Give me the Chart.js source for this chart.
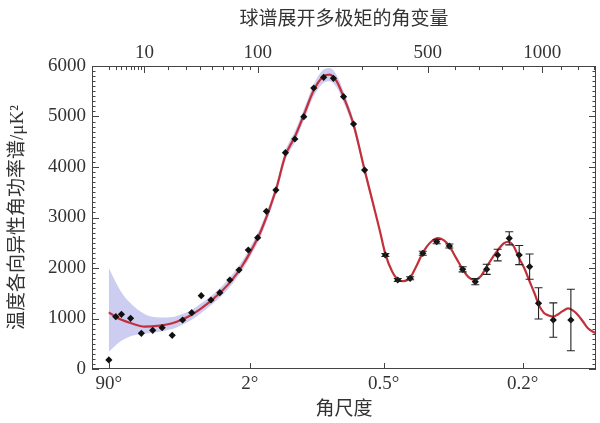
<!DOCTYPE html>
<html><head><meta charset="utf-8">
<script src="https://cdn.jsdelivr.net/npm/chart.js@4.4.0/dist/chart.umd.min.js"></script>
<style>html,body{margin:0;padding:0;background:#fff;} canvas{display:block;}</style>
</head><body>
<canvas id="c" width="600" height="423"></canvas>
<script>
const dataL = [2,3,4,6,9,13,17,22,28,34,41,49,57,67,77,88,100,112,126,
  141,157,173,192,212,233,256,280,308,
  365,402,441,483,532,579,631,683,732,781,835,883,935,981,1060,1159];
const dataV = [180,1036,1083,1003,707,766,818,667,970,1115,1451,1366,1511,1762,1960,2356,2600,3122,3544,
  4283,4554,4996,5564,5775,5755,5392,4851,3940,
  2257,1762,1796,2291,2521,2435,1974,1729,1974,2257,2588,2257,2026,1300,970,970];
const dataErr = [0,0,0,0,0,0,0,0,0,0,0,0,0,0,0,0,0,0,0,
  0,0,0,0,0,0,0,0,0,
  30,30,30,40,40,40,50,60,100,115,130,190,250,310,340,610];

// best-fit model curve
const curveL = [2,3,4,6,10,16,22,27,34,41,50,60,70,80,90,105,126,141,157,173,192,212,225,240,256,280,308,335,350,365,
  385,405,420,441,460,483,510,539,560,579,605,631,655,679,705,732,760,781,810,830,855,883,910,932,960,985,
  1010,1035,1060,1085,1110,1143,1170,1200,1230,1260,1311];
const curveV = [1122,1030,975,910,838,860,905,970,1075,1202,1370,1564,1780,2025,2300,2752,3544,4230,4600,5030,5520,5800,5830,5700,5390,4840,3940,3150,2720,2280,
  1930,1760,1740,1810,2020,2300,2510,2590,2540,2435,2200,1974,1820,1762,1830,2026,2220,2350,2490,2520,2440,2192,1980,1762,1500,1250,
  1110,1060,1036,1080,1140,1200,1160,1069,940,806,700];

// cosmic-variance band
const bandL  = [2,3,4,6,10,16,22,27,34,41,50,60,70,80,90,105,126,141,157,173,192,212,225,240,256,280,308,335];
const bandHi = [2000,1720,1520,1300,1090,1020,1030,1080,1170,1300,1460,1660,1880,2120,2400,2850,3640,4330,4710,5140,5640,5930,5960,5820,5500,4930,4020,3220];
const bandLo = [340,470,560,650,700,740,790,860,975,1110,1280,1470,1690,1940,2210,2660,3450,4130,4490,4920,5400,5670,5700,5580,5280,4750,3860,3080];

// axis ticks
const topTickL = [10,100,500,1000];
const topTickLabels = ['10','100','500','1000'];
const topMinorL = [2,3,4,5,6,7,8,9,20,30,40,50,60,70,80,90,200,300,400,600,700,800,900,1100,1200,1300];
const bottomTickL = [2,90,360,900];
const bottomTickLabels = ['90°','2°','0.5°','0.2°'];

// the l axis is stretched like l^0.4
const P = 0.4;
const u = l => Math.pow(l, P);
const U_MIN = 0.754, U_MAX = 17.655;

const txt = '#333';
const numFont = { family: '"Liberation Serif", "Noto Sans CJK SC", serif', size: 19 };
const cjkFont = { family: '"Liberation Serif", "Noto Sans CJK SC", serif', size: 19 };

const pts = (ls, vs) => ls.map((l, i) => ({ x: u(l), y: vs[i] }));

const decor = {
  id: 'decor',
  afterDatasetsDraw(chart) {
    const { ctx, scales: { x, y } } = chart;
    ctx.save();
    ctx.strokeStyle = '#222';
    ctx.lineWidth = 1.1;
    dataL.forEach((l, i) => {
      const e = dataErr[i];
      if (!e) return;
      const px = x.getPixelForValue(u(l));
      const y1 = y.getPixelForValue(dataV[i] + e), y2 = y.getPixelForValue(dataV[i] - e);
      ctx.beginPath();
      ctx.moveTo(px, y1); ctx.lineTo(px, y2);
      ctx.moveTo(px - 4, y1); ctx.lineTo(px + 4, y1);
      ctx.moveTo(px - 4, y2); ctx.lineTo(px + 4, y2);
      ctx.stroke();
    });
    ctx.restore();
  },
  afterDraw(chart) {
    const { ctx, chartArea: a, scales: { x, y } } = chart;
    ctx.save();
    ctx.strokeStyle = '#444';
    ctx.lineWidth = 1;
    ctx.strokeRect(a.left + 0.5, a.top + 0.5, a.right - a.left - 1, a.bottom - a.top - 1);
    ctx.beginPath();
    for (let v = 0; v <= 6000; v += 100) {
      const py = Math.round(y.getPixelForValue(v)) + 0.5;
      const len = v % 1000 === 0 ? 7 : 3.5;
      ctx.moveTo(a.left, py); ctx.lineTo(a.left + len, py);
      ctx.moveTo(a.right, py); ctx.lineTo(a.right - len, py);
    }
    const vtick = (l, len, fromTop) => {
      const px = Math.round(x.getPixelForValue(u(l))) + 0.5;
      if (px > a.right) return;
      if (fromTop) { ctx.moveTo(px, a.top); ctx.lineTo(px, a.top + len); }
      else { ctx.moveTo(px, a.bottom); ctx.lineTo(px, a.bottom - len); }
    };
    topMinorL.forEach(l => vtick(l, 4, true));
    topTickL.forEach(l => vtick(l, 7, true));
    bottomTickL.forEach(l => vtick(l, 6, false));
    ctx.stroke();
    ctx.restore();
  }
};

new Chart(document.getElementById('c'), {
  type: 'line',
  data: {
    datasets: [
      { data: pts(dataL, dataV), showLine: false, pointStyle: 'rectRot', pointRadius: 3.6,
        pointBackgroundColor: '#111', pointBorderColor: '#111', borderWidth: 0 },
      { data: pts(curveL, curveV), borderColor: '#c2303a', borderWidth: 2.2, pointRadius: 0,
        cubicInterpolationMode: 'monotone', fill: false },
      { data: pts(bandL, bandHi), borderWidth: 0, pointRadius: 0, borderColor: 'rgba(0,0,0,0)',
        backgroundColor: 'rgba(196,196,238,0.85)', cubicInterpolationMode: 'monotone', fill: '+1' },
      { data: pts(bandL, bandLo), borderWidth: 0, pointRadius: 0, borderColor: 'rgba(0,0,0,0)',
        cubicInterpolationMode: 'monotone', fill: false }
    ]
  },
  options: {
    responsive: false,
    animation: false,
    devicePixelRatio: 1,
    layout: { padding: { left: 0, right: 3, top: 0, bottom: 0 } },
    plugins: { legend: { display: false }, tooltip: { enabled: false } },
    scales: {
      x: {
        type: 'linear', position: 'bottom', min: U_MIN, max: U_MAX,
        grid: { display: false, drawTicks: false }, border: { display: false },
        afterBuildTicks: s => { s.ticks = bottomTickL.map(l => ({ value: u(l) })); },
        ticks: { callback: (v, i) => bottomTickLabels[i], padding: 4, font: numFont, color: txt,
          maxRotation: 0, autoSkip: false },
        title: { display: true, text: '角尺度', font: cjkFont, color: txt, padding: { top: 0, bottom: 2 } },
        afterFit: s => { s.height = 54; }
      },
      x2: {
        type: 'linear', position: 'top', min: U_MIN, max: U_MAX,
        grid: { display: false, drawTicks: false }, border: { display: false },
        afterBuildTicks: s => { s.ticks = topTickL.map(l => ({ value: u(l) })); },
        ticks: { callback: (v, i) => topTickLabels[i], padding: 2, font: numFont, color: txt,
          maxRotation: 0, autoSkip: false },
        title: { display: true, text: '球谱展开多极矩的角变量', font: cjkFont, color: txt, padding: { top: 9, bottom: 0 } },
        afterFit: s => { s.height = 66; }
      },
      y: {
        min: 0, max: 6000,
        grid: { display: false, drawTicks: false }, border: { display: false },
        ticks: { stepSize: 1000, padding: 6, font: numFont, color: txt, callback: v => String(v) },
        title: { display: true, text: '温度各向异性角功率谱/μK²', font: cjkFont, color: txt, padding: { top: 7, bottom: 0 } },
        afterFit: s => { s.width = 92; }
      }
    }
  },
  plugins: [decor]
});
</script></body></html>
